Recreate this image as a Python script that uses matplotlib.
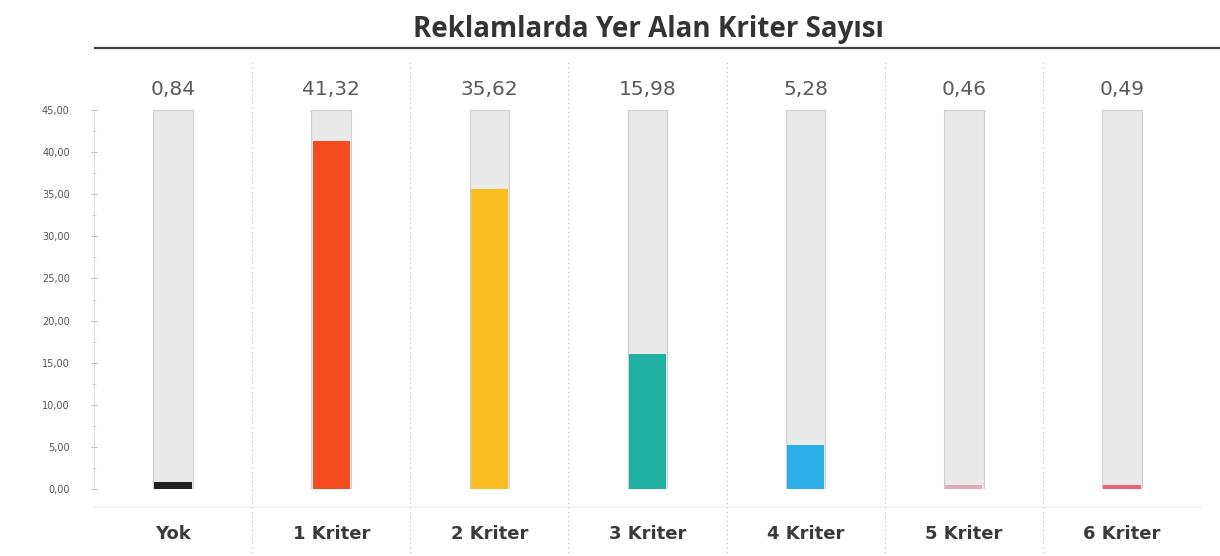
import matplotlib
matplotlib.use("Agg")
import matplotlib.pyplot as plt
from matplotlib.ticker import MultipleLocator, FuncFormatter

categories = ["Yok", "1 Kriter", "2 Kriter", "3 Kriter", "4 Kriter", "5 Kriter", "6 Kriter"]
values = [0.84, 41.32, 35.62, 15.98, 5.28, 0.46, 0.49]
value_labels = ["0,84", "41,32", "35,62", "15,98", "5,28", "0,46", "0,49"]
colors = ["#222222", "#f44b20", "#f9bd20", "#20b0a2", "#2caee6", "#e2a9b8", "#ea6078"]
ymax = 45
title = "Reklamlarda Yer Alan Kriter Sayısı"

plt.rcParams['font.family'] = ['Open Sans', 'DejaVu Sans']

fig = plt.figure(figsize=(12.2, 5.56), dpi=100)
W, H = 1220, 556
left_px, right_px = 94, 1201
top_px, bot_px = 110, 489
ax = fig.add_axes([left_px / W, 1 - bot_px / H, (right_px - left_px) / W, (bot_px - top_px) / H])
ax.set_xlim(-0.5, len(categories) - 0.5)
ax.set_ylim(0, ymax)

x = list(range(len(categories)))
# background bars
ax.bar(x, [ymax] * len(x), width=0.25, color="#e9e9e9", edgecolor="#cfcfcf", linewidth=0.8, zorder=1)
ax.bar(x, values, width=0.235, color=colors, zorder=2)

for xi, lab in zip(x, value_labels):
    ax.text(xi, 47.4, lab, ha="center", va="center", fontsize=14.5, color="#5a5a5a",
            family=["DejaVu Sans"], clip_on=False)
for xi, lab in zip(x, categories):
    ax.text(xi, -5.4, lab, ha="center", va="center", fontsize=13, fontweight="bold",
            color="#3a3a3a", family=["DejaVu Sans"], clip_on=False)

# separators
for xi in x[:-1]:
    ax.axvline(xi + 0.5, ymin=-0.18, ymax=1.13, color="#bbbbbb", linestyle=(0, (1, 3)),
               linewidth=0.8, clip_on=False, zorder=0)
ax.axhline(-2.1, color="#f0f0f0", linewidth=1.2, clip_on=False, zorder=0)

for s in ["top", "right", "bottom"]:
    ax.spines[s].set_visible(False)
ax.spines["left"].set_color("#dddddd")
ax.set_xticks([])
ax.yaxis.set_major_locator(MultipleLocator(5))
ax.yaxis.set_minor_locator(MultipleLocator(2.5))
ax.yaxis.set_major_formatter(FuncFormatter(lambda v, p: f"{v:.2f}".replace(".", ",")))
ax.tick_params(axis="y", which="major", direction="inout", length=5, width=0.8, color="#bbbbbb",
               labelsize=7, labelcolor="#555555", pad=15)
ax.tick_params(axis="y", which="minor", direction="inout", length=3, width=0.6, color="#cccccc")
for t in ax.get_yticklabels():
    t.set_family(["DejaVu Sans"])
ax.set_facecolor("none")

# title and rule
fig.text(648 / W, 1 - 29 / H, title, ha="center", va="center", fontsize=20, fontweight="bold", color="#333333")
fig.add_artist(plt.Line2D([95 / W, 1.0], [1 - 48 / H, 1 - 48 / H], color="#444444", linewidth=1.6))

fig.savefig("out.png", dpi=100)
